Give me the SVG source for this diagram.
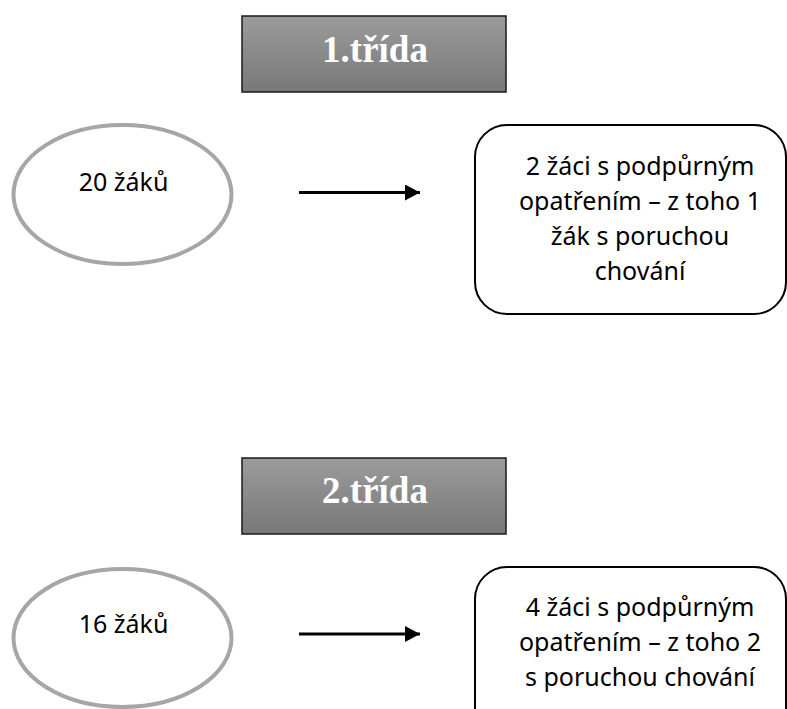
<svg xmlns="http://www.w3.org/2000/svg" width="787" height="709" viewBox="0 0 787 709">
<defs>
<linearGradient id="grey" x1="0" y1="0" x2="0" y2="1">
<stop offset="0" stop-color="#9b9b9b"/>
<stop offset="1" stop-color="#787878"/>
</linearGradient>
<marker id="arrow" markerWidth="16" markerHeight="16" refX="15" refY="8" orient="auto" markerUnits="userSpaceOnUse">
<path d="M0,0 L15,8 L0,16 Z" fill="#000"/>
</marker>
<style>
.title{fill:url(#grey);stroke:#1a1a1a;stroke-width:1.5}
.titletext{font-family:"Liberation Serif","Times New Roman",serif;font-weight:bold;font-size:37px;fill:#fff;text-anchor:middle}
.ell{fill:#fff;stroke:#a6a6a6;stroke-width:4}
.box{fill:#fff;stroke:#000;stroke-width:2}
.txt{font-family:"Noto Sans","Open Sans",sans-serif;font-size:25px;fill:#000;text-anchor:middle}
.conn{stroke:#000;stroke-width:3;fill:none}
</style>
</defs>
<rect width="787" height="709" fill="#fff"/>
<g id="title1">
<rect class="title" x="242" y="16" width="264" height="76"/>
<text class="titletext" x="375" y="62">1.třída</text>
</g>
<g id="ellipse1">
<ellipse class="ell" cx="122.5" cy="194.5" rx="109" ry="69.5"/>
<text class="txt" x="123.5" y="191">20 žáků</text>
</g>
<g id="box1">
<rect class="box" x="475" y="125" width="311" height="189" rx="32" ry="32"/>
<text class="txt" x="640" y="175">2 žáci s podpůrným</text>
<text class="txt" x="640" y="210">opatřením – z toho 1</text>
<text class="txt" x="640" y="245">žák s poruchou</text>
<text class="txt" x="640" y="280">chování</text>
</g>
<g id="title2">
<rect class="title" x="242" y="458" width="264" height="76"/>
<text class="titletext" x="375" y="503">2.třída</text>
</g>
<g id="ellipse2">
<ellipse class="ell" cx="122.5" cy="638" rx="109" ry="69"/>
<text class="txt" x="123.5" y="633">16 žáků</text>
</g>
<g id="box2">
<rect class="box" x="475" y="567" width="311" height="189" rx="32" ry="32"/>
<text class="txt" x="640" y="616">4 žáci s podpůrným</text>
<text class="txt" x="640" y="651">opatřením – z toho 2</text>
<text class="txt" x="640" y="686">s poruchou chování</text>
</g>
<g id="connectors">
<line class="conn" x1="299" y1="192.5" x2="420" y2="192.5" marker-end="url(#arrow)"/>
<line class="conn" x1="299" y1="634" x2="420" y2="634" marker-end="url(#arrow)"/>
</g>
</svg>
